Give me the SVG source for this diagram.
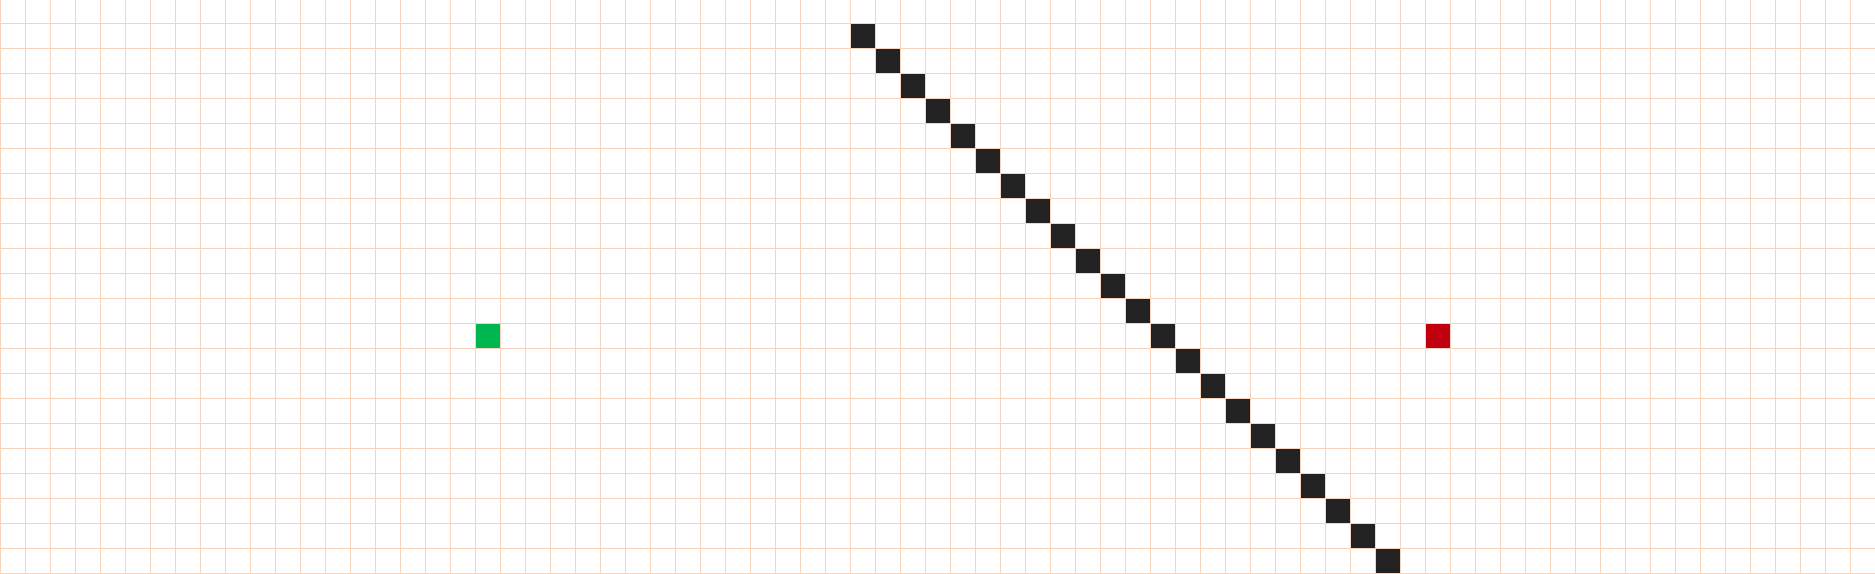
<svg xmlns="http://www.w3.org/2000/svg" width="1875" height="574" viewBox="0 0 1875 574">
<defs>
<style>
.bg{fill:#ffffff}
.grid{stroke:#f8d3be;stroke-width:1;fill:none}
.wall{fill:#222222}
.start{fill:#00b74f}
.goal{fill:#c0000f}
</style>
<pattern id="gridpat" x="0" y="23" width="25" height="25" patternUnits="userSpaceOnUse">
<path class="grid" d="M0.5 0V25M0 0.5H25"/>
</pattern>
</defs>
<rect class="bg" x="0" y="0" width="1875" height="574"/>
<g id="cells">
<g id="walls">
<rect class="wall" x="850" y="23" width="25" height="25"/>
<rect class="wall" x="875" y="48" width="25" height="25"/>
<rect class="wall" x="900" y="73" width="25" height="25"/>
<rect class="wall" x="925" y="98" width="25" height="25"/>
<rect class="wall" x="950" y="123" width="25" height="25"/>
<rect class="wall" x="975" y="148" width="25" height="25"/>
<rect class="wall" x="1000" y="173" width="25" height="25"/>
<rect class="wall" x="1025" y="198" width="25" height="25"/>
<rect class="wall" x="1050" y="223" width="25" height="25"/>
<rect class="wall" x="1075" y="248" width="25" height="25"/>
<rect class="wall" x="1100" y="273" width="25" height="25"/>
<rect class="wall" x="1125" y="298" width="25" height="25"/>
<rect class="wall" x="1150" y="323" width="25" height="25"/>
<rect class="wall" x="1175" y="348" width="25" height="25"/>
<rect class="wall" x="1200" y="373" width="25" height="25"/>
<rect class="wall" x="1225" y="398" width="25" height="25"/>
<rect class="wall" x="1250" y="423" width="25" height="25"/>
<rect class="wall" x="1275" y="448" width="25" height="25"/>
<rect class="wall" x="1300" y="473" width="25" height="25"/>
<rect class="wall" x="1325" y="498" width="25" height="25"/>
<rect class="wall" x="1350" y="523" width="25" height="25"/>
<rect class="wall" x="1375" y="548" width="25" height="25"/>
</g>
<g id="start"><rect class="start" x="475" y="323" width="25" height="25"/></g>
<g id="goal"><rect class="goal" x="1425" y="323" width="25" height="25"/></g>
</g>
<g id="grid">
<rect x="0" y="-2" width="1875" height="576" fill="url(#gridpat)"/>
</g>
</svg>
